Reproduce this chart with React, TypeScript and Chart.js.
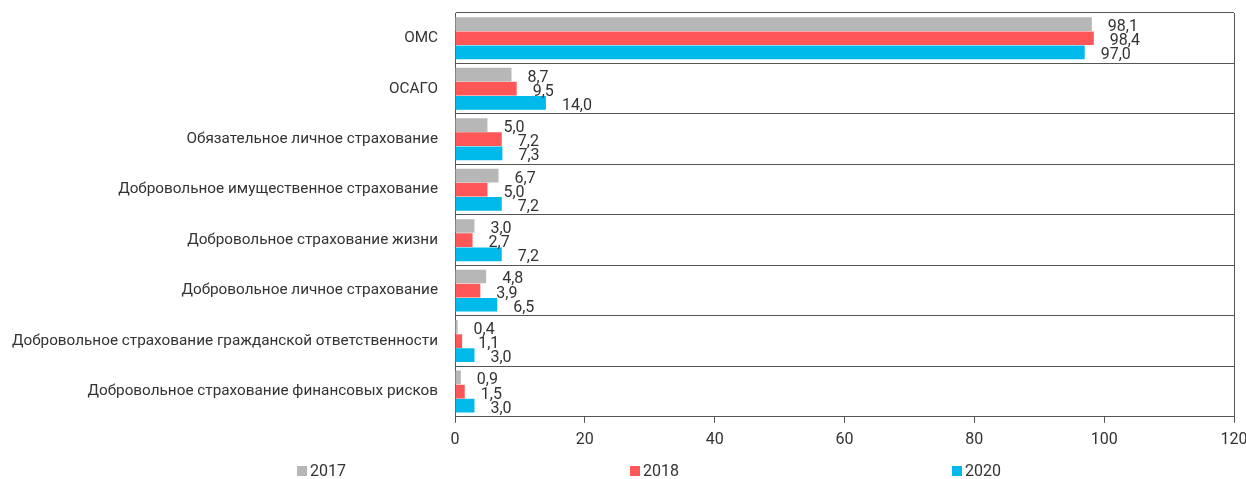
import React, { useEffect, useRef } from "react";
import { Chart, registerables } from "chart.js";

Chart.register(...registerables);

const categories = [
  "ОМС",
  "ОСАГО",
  "Обязательное личное страхование",
  "Добровольное имущественное страхование",
  "Добровольное страхование жизни",
  "Добровольное личное страхование",
  "Добровольное страхование гражданской ответственности",
  "Добровольное страхование финансовых рисков",
];
const values2017 = [98.1, 8.7, 5.0, 6.7, 3.0, 4.8, 0.4, 0.9];
const values2018 = [98.4, 9.5, 7.2, 5.0, 2.7, 3.9, 1.1, 1.5];
const values2020 = [97.0, 14.0, 7.3, 7.2, 7.2, 6.5, 3.0, 3.0];
const seriesLabels = ["2017", "2018", "2020"];
const xTicks = [0, 20, 40, 60, 80, 100, 120];

const FONT = "Roboto";
const TEXT = "#333333";
const LINE = "#555555";

const valueLabels = {
  id: "valueLabels",
  afterDatasetsDraw(chart: any) {
    const ctx = chart.ctx;
    ctx.save();
    ctx.font = `16px ${FONT}`;
    ctx.fillStyle = TEXT;
    ctx.textAlign = "left";
    ctx.textBaseline = "middle";
    chart.data.datasets.forEach((ds: any, i: number) => {
      const meta = chart.getDatasetMeta(i);
      meta.data.forEach((bar: any, j: number) => {
        const v = ds.data[j];
        const txt = v.toFixed(1).replace(".", ",");
        ctx.fillText(txt, bar.x + 16, bar.y + 3);
      });
    });
    ctx.restore();
  },
};

const customLegend = {
  id: "customLegend",
  afterDraw(chart: any) {
    const ctx = chart.ctx;
    const positions = [297, 630, 952];
    ctx.save();
    ctx.font = `16px ${FONT}`;
    ctx.textBaseline = "middle";
    ctx.textAlign = "left";
    chart.data.datasets.forEach((ds: any, i: number) => {
      const x = positions[i];
      const y = 471;
      ctx.fillStyle = ds.backgroundColor;
      ctx.fillRect(x, y - 5, 10, 10);
      ctx.fillStyle = TEXT;
      ctx.fillText(ds.label, x + 13, y + 1);
    });
    ctx.restore();
  },
};

const zeroPad = (s: any) => {
  s.paddingTop = 0;
  s.paddingBottom = 0;
  s.paddingLeft = 0;
  s.paddingRight = 0;
};

export default function App() {
  const ref = useRef<HTMLCanvasElement>(null);
  useEffect(() => {
    document.body.style.margin = "0";
    const chart = new Chart(ref.current!, {
      type: "bar",
      data: {
        labels: categories,
        datasets: [
          { label: seriesLabels[0], data: values2017, backgroundColor: "#b7b7b7" },
          { label: seriesLabels[1], data: values2018, backgroundColor: "#ff5757" },
          { label: seriesLabels[2], data: values2020, backgroundColor: "#00b9eb" },
        ],
      },
      options: {
        indexAxis: "y",
        animation: false,
        responsive: false,
        maintainAspectRatio: false,
        datasets: { bar: { categoryPercentage: 0.84, barPercentage: 0.97 } },
        layout: { padding: { top: 13, right: 12, bottom: 21, left: 8 } },
        plugins: { legend: { display: false }, tooltip: { enabled: false } },
        scales: {
          x: {
            min: 0,
            max: 120,
            afterBuildTicks: (s: any) => {
              s.ticks = xTicks.map((v) => ({ value: v }));
            },
            afterFit: zeroPad,
            grid: {
              color: (c: any) => (c.tick && c.tick.value === 120 ? LINE : "rgba(0,0,0,0)"),
              tickColor: LINE,
              tickLength: 6,
              lineWidth: 1,
            },
            border: { color: LINE, width: 1 },
            ticks: { color: TEXT, font: { family: FONT, size: 16 }, padding: 8 },
          },
          y: {
            afterFit: (s: any) => {
              s.width = 447;
              zeroPad(s);
            },
            grid: { color: LINE, offset: true, drawTicks: false, lineWidth: 1 },
            border: { color: LINE, width: 1 },
            ticks: { color: TEXT, font: { family: FONT, size: 15.3 }, padding: 17 },
          },
        },
      },
      plugins: [valueLabels, customLegend],
    });
    return () => chart.destroy();
  }, []);
  return (
    <div style={{ width: 1246, height: 479 }}>
      <canvas ref={ref} width={1246} height={479} style={{ display: "block" }} />
    </div>
  );
}
